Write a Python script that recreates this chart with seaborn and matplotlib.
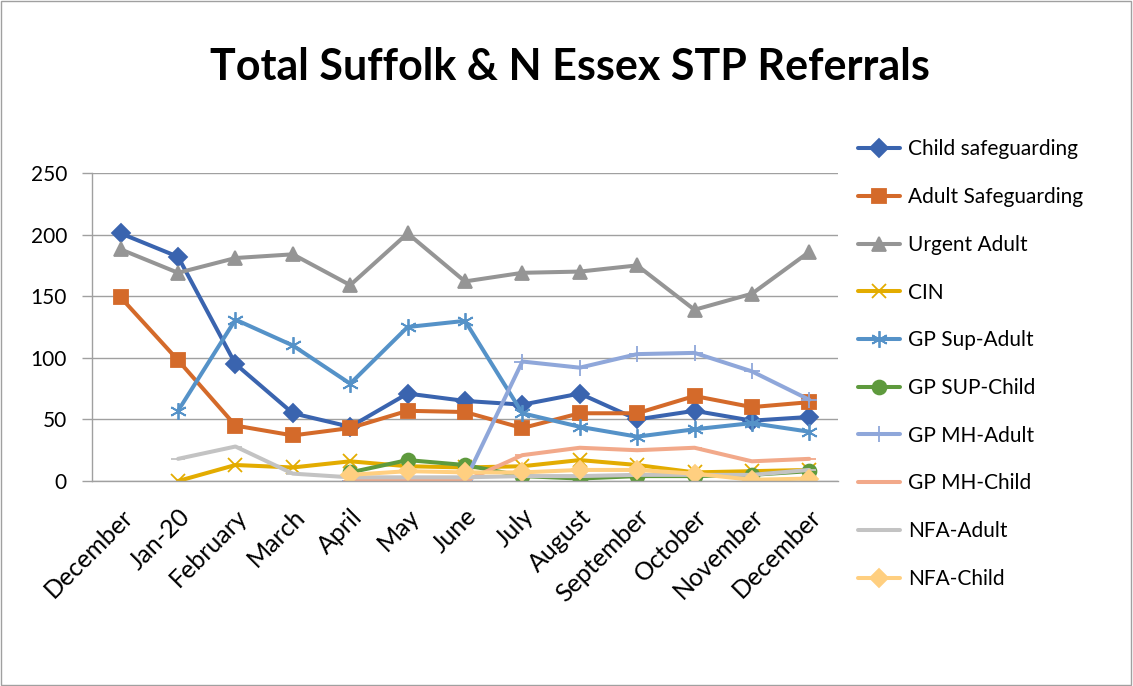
import numpy as np
import pandas as pd
import matplotlib
matplotlib.use("Agg")
import matplotlib.pyplot as plt
from matplotlib.lines import Line2D
from matplotlib.patches import Rectangle
import seaborn as sns

# --- DATA ---
months = ["December", "Jan-20", "February", "March", "April", "May", "June",
          "July", "August", "September", "October", "November", "December"]
nan = np.nan
child_safeguarding = [201, 182, 95, 55, 44, 71, 65, 62, 71, 50, 57, 49, 52]
adult_safeguarding = [149, 98, 45, 37, 43, 57, 56, 43, 55, 55, 69, 60, 64]
urgent_adult = [188, 169, 181, 184, 159, 201, 162, 169, 170, 175, 139, 152, 186]
cin = [nan, 0, 13, 11, 16, 12, 11, 12, 17, 13, 7, 8, 9]
gp_sup_adult = [nan, 57, 131, 110, 79, 125, 130, 55, 44, 36, 42, 47, 40]
gp_sup_child = [nan, nan, nan, nan, 7, 17, 13, 4, 2, 4, 4, 5, 8]
gp_mh_adult = [nan, nan, nan, nan, 0, 0, 0, 97, 92, 103, 104, 89, 66]
gp_mh_child = [nan, nan, nan, nan, 0, 0, 0, 21, 27, 25, 27, 16, 18]
nfa_adult = [nan, 18, 28, 6, 3, 3, 3, 4, 4, 5, 5, 5, 9]
nfa_child = [nan, nan, nan, nan, 5, 8, 7, 7, 9, 9, 6, 1, 2]

series = [
    ("Child safeguarding", child_safeguarding, "#3A64AF", "D", 9),
    ("Adult Safeguarding", adult_safeguarding, "#D46A2A", "s", 10),
    ("Urgent Adult", urgent_adult, "#959595", "^", 10),
    ("CIN", cin, "#E3AC00", "x", 10),
    ("GP Sup-Adult", gp_sup_adult, "#5592C8", (6, 2, 0), 12),
    ("GP SUP-Child", gp_sup_child, "#5E9A3D", "o", 10),
    ("GP MH-Adult", gp_mh_adult, "#8FA7DA", "+", 12),
    ("GP MH-Child", gp_mh_child, "#F2A98A", "_", 10),
    ("NFA-Adult", nfa_adult, "#C3C3C3", "_", 10),
    ("NFA-Child", nfa_child, "#FFCF80", "D", 9),
]

sns.set_style("white")
plt.rcParams['font.family'] = ['Lato', 'DejaVu Sans']
plt.rcParams['text.color'] = 'black'
plt.rcParams['xtick.labelcolor'] = 'black'
plt.rcParams['ytick.labelcolor'] = 'black'

fig = plt.figure(figsize=(11.33, 6.86), dpi=100)
ax = fig.add_axes([0.0812, 0.2988, 0.6584, 0.449])

x = np.arange(len(months))
lw = 2.9
handles = []
for name, vals, col, mk, ms in series:
    df = pd.DataFrame({"x": x, "y": vals}).dropna()
    sns.lineplot(data=df, x="x", y="y", ax=ax, color=col, linewidth=lw,
                 marker=mk, markersize=ms, markeredgecolor=col,
                 markeredgewidth=1.3, markerfacecolor=col)
    handles.append(Line2D([], [], color=col, linewidth=lw, marker=mk,
                          markersize=ms, markeredgecolor=col,
                          markeredgewidth=1.3, markerfacecolor=col, label=name))

ax.set_xlim(-0.5, len(months) - 0.5)
ax.set_ylim(0, 250)
ax.set_yticks(range(0, 251, 50))
ax.set_xticks(x)
ax.set_xticklabels(months, rotation=45, ha="right", rotation_mode="anchor")
ax.set_xticks(np.arange(-0.5, len(months), 1), minor=True)
ax.tick_params(axis="x", which="major", length=0, pad=17, labelsize=18)
ax.tick_params(axis="x", which="minor", length=7, color="#A0A0A0", width=1)
ax.tick_params(axis="y", left=True, length=7, color="#A0A0A0", width=1,
               pad=11, labelsize=15)
ax.set_xlabel("")
ax.set_ylabel("")
ax.grid(axis="y", color="#A0A0A0", linewidth=1)
ax.set_axisbelow(True)
for s in ["top", "right"]:
    ax.spines[s].set_visible(False)
for s in ["left", "bottom"]:
    ax.spines[s].set_color("#A0A0A0")
    ax.spines[s].set_linewidth(1)

fig.text(0.503, 0.903, "Total Suffolk & N Essex STP Referrals", ha="center",
         va="center", fontsize=31, fontweight="bold")

fig.legend(handles=handles, loc="upper left", bbox_to_anchor=(0.741, 0.824),
           frameon=False, fontsize=15, labelspacing=1.33, handlelength=2.0,
           handletextpad=0.4)

fig.add_artist(Rectangle((0.001, 0.001), 0.997, 0.997, transform=fig.transFigure,
                         fill=False, edgecolor="#A0A0A0", linewidth=1))

fig.savefig("out.png", dpi=100)
